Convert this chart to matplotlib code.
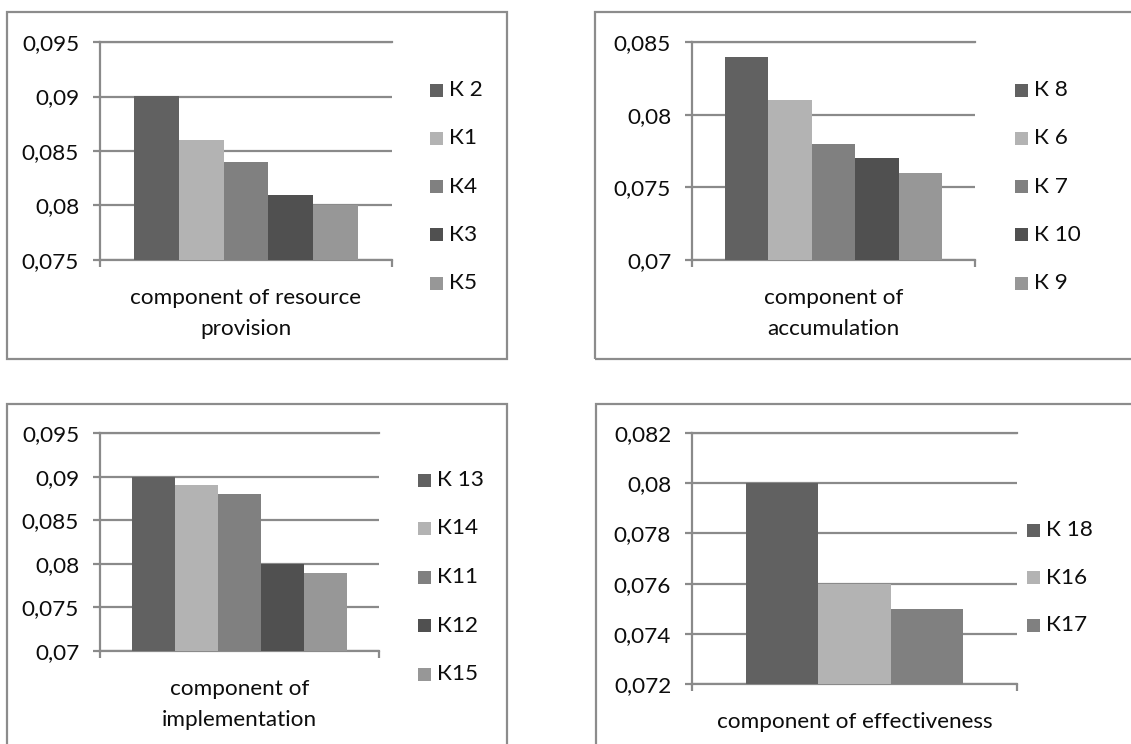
import matplotlib
matplotlib.use("Agg")
import matplotlib.pyplot as plt
from matplotlib.patches import Rectangle

W, H = 1131, 744
plt.rcParams['font.family'] = ['Lato', 'DejaVu Sans']

# ---- data -------------------------------------------------------------
titles = ["component of resource\nprovision",
          "component of\naccumulation",
          "component of\nimplementation",
          "component of effectiveness"]

names_res = ["К 2", "К1", "К4", "К3", "К5"]
vals_res = [0.090, 0.086, 0.084, 0.081, 0.080]

names_acc = ["К 8", "К 6", "К 7", "К 10", "К 9"]
vals_acc = [0.084, 0.081, 0.078, 0.077, 0.076]

names_impl = ["К 13", "К14", "К11", "К12", "К15"]
vals_impl = [0.090, 0.089, 0.088, 0.080, 0.079]

names_eff = ["К 18", "К16", "К17"]
vals_eff = [0.080, 0.076, 0.075]

ticks_res = [0.075, 0.080, 0.085, 0.090, 0.095]
ticks_acc = [0.070, 0.075, 0.080, 0.085]
ticks_impl = [0.070, 0.075, 0.080, 0.085, 0.090, 0.095]
ticks_eff = [0.072, 0.074, 0.076, 0.078, 0.080, 0.082]

labels_res = ["0,075", "0,08", "0,085", "0,09", "0,095"]
labels_acc = ["0,07", "0,075", "0,08", "0,085"]
labels_impl = ["0,07", "0,075", "0,08", "0,085", "0,09", "0,095"]
labels_eff = ["0,072", "0,074", "0,076", "0,078", "0,08", "0,082"]

# ---- styling ----------------------------------------------------------
bar_colors = ["#616161", "#b3b3b3", "#808080", "#505050", "#979797"]
grid_col = "#8a8a8a"
frame_col = "#8c8c8c"
text_col = "#0d0d0d"
fs = 16.2

fig = plt.figure(figsize=(W / 100, H / 100), dpi=100)


def px_rect(x0, y0, x1, y1):
    return [x0 / W, (H - y1) / H, (x1 - x0) / W, (y1 - y0) / H]


def panel(frame, plot, legend_xy, step, title, names, vals, ticks, labels):
    fx0, fy0, fx1, fy1 = frame
    fig.patches.append(Rectangle((fx0 / W, (H - fy1) / H), (fx1 - fx0) / W,
                                 (fy1 - fy0) / H, transform=fig.transFigure,
                                 fill=False, edgecolor=frame_col, lw=1.6,
                                 zorder=0))
    ax = fig.add_axes(px_rect(*plot))
    n = len(vals)
    w = 1.0 / (n + 1.5)
    xs = [0.75 * w + w * (i + 0.5) for i in range(n)]
    ax.bar(xs, [v - ticks[0] for v in vals], width=w, bottom=ticks[0],
           color=bar_colors[:n], zorder=3, linewidth=0)
    ax.set_xlim(0, 1)
    ax.set_ylim(ticks[0], ticks[-1])
    ax.set_yticks(ticks)
    ax.set_yticklabels(labels, fontsize=fs, color=text_col)
    ax.set_xticks([0, 1])
    ax.set_xticklabels([])
    ax.tick_params(axis='y', direction='out', length=5, width=1.6,
                   color=grid_col, pad=10)
    ax.tick_params(axis='x', direction='out', length=5, width=1.6,
                   color=grid_col)
    ax.grid(axis='y', color=grid_col, lw=1.6, zorder=1)
    ax.set_axisbelow(True)
    ax.spines['right'].set_visible(False)
    for s in ('left', 'bottom', 'top'):
        ax.spines[s].set_color(grid_col)
        ax.spines[s].set_linewidth(1.6)
    ax.set_xlabel(title, fontsize=fs, color=text_col, labelpad=12,
                  linespacing=1.68)
    lx, ly = legend_xy
    for i, (nm, c) in enumerate(zip(names, bar_colors)):
        cy = ly + i * step
        fig.patches.append(Rectangle((lx / W, (H - cy - 6.5) / H), 13 / W,
                                     13 / H, transform=fig.transFigure,
                                     color=c, lw=0))
        fig.text((lx + 19) / W, (H - cy) / H, nm, fontsize=fs,
                 va='center', ha='left', color=text_col)
    return ax


panel((7, 12, 507, 359), (100, 42, 392, 260), (430, 90), 48.3,
      titles[0], names_res, vals_res, ticks_res, labels_res)
panel((595, 12, 1140, 359), (692, 42, 975, 260), (1015, 90), 48.3,
      titles[1], names_acc, vals_acc, ticks_acc, labels_acc)
panel((7, 404, 507, 760), (100, 433, 379, 651), (418, 480), 48.5,
      titles[2], names_impl, vals_impl, ticks_impl, labels_impl)
panel((596, 404, 1140, 760), (692, 433, 1017, 684), (1027, 530), 47.5,
      titles[3], names_eff, vals_eff, ticks_eff, labels_eff)

fig.savefig("out.png", dpi=100, facecolor="white")
